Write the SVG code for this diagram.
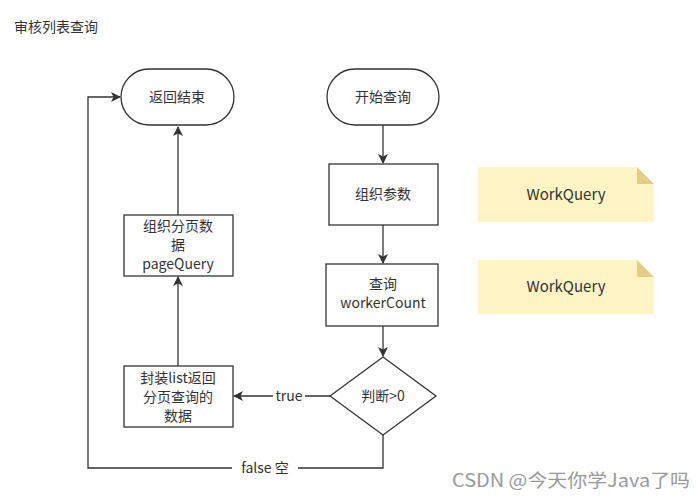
<svg xmlns="http://www.w3.org/2000/svg" width="697" height="500" viewBox="0 0 697 500">
<style>
.t{font-family:"Noto Sans CJK SC","Noto Sans",sans-serif;font-size:14px;fill:#333;text-anchor:middle}
.n{fill:#fff;stroke:#333;stroke-width:1.3}
.c{fill:none;stroke:#333;stroke-width:1.3}
.note{fill:#fff4c3}
.fold{fill:#e5cd85}
.lbl{font-family:"Noto Sans CJK SC","Noto Sans",sans-serif;font-size:14px;fill:#333;text-anchor:middle}
</style>
<defs>
<marker id="a" markerWidth="10" markerHeight="10" refX="9" refY="5" orient="auto" markerUnits="userSpaceOnUse">
<path d="M0,0 L10,5 L0,10 L2.5,5 Z" fill="#333"/>
</marker>
</defs>
<rect width="697" height="500" fill="#fff"/>
<text x="14" y="32" class="t" style="text-anchor:start">审核列表查询</text>

<g id="connectors">
<path class="c" d="M383,125 V163" marker-end="url(#a)"/>
<path class="c" d="M383,225 V263" marker-end="url(#a)"/>
<path class="c" d="M383,326 V356" marker-end="url(#a)"/>
<path class="c" d="M330,396 H234" marker-end="url(#a)"/>
<rect x="273" y="387" width="32" height="18" fill="#fff"/>
<text x="289" y="401" class="lbl">true</text>
<path class="c" d="M178,366 V277" marker-end="url(#a)"/>
<path class="c" d="M178,215 V127" marker-end="url(#a)"/>
<path class="c" d="M383,435 V468 H88 V97 H120" marker-end="url(#a)"/>
<rect x="232" y="459" width="66" height="18" fill="#fff"/>
<text x="265" y="473" class="lbl">false 空</text>
</g>

<g id="end"><rect class="n" x="121" y="69" width="113" height="56" rx="28"/><text x="177" y="102" class="t">返回结束</text></g>
<g id="start"><rect class="n" x="327" y="69" width="112" height="56" rx="28"/><text x="383" y="102" class="t">开始查询</text></g>
<g id="params"><rect class="n" x="329" y="164" width="109" height="61"/><text x="383" y="199" class="t">组织参数</text></g>
<g id="count"><rect class="n" x="326" y="264" width="112" height="62"/><text x="383" y="289" class="t">查询</text><text x="383" y="308" class="t">workerCount</text></g>
<g id="judge"><path class="n" d="M383,357 L436,396 L383,435 L330,396 Z"/><text x="383" y="401" class="t">判断&gt;0</text></g>
<g id="page"><rect class="n" x="124" y="215" width="109" height="61"/><text x="178" y="231" class="t">组织分页数</text><text x="178" y="250" class="t">据</text><text x="178" y="269" class="t">pageQuery</text></g>
<g id="wrap"><rect class="n" x="124" y="366" width="109" height="61"/><text x="178" y="383" class="t">封装list返回</text><text x="178" y="402" class="t">分页查询的</text><text x="178" y="421" class="t">数据</text></g>

<g id="note1"><path class="note" d="M478,167 H637 L654,184 V222 H478 Z"/><path class="fold" d="M637,167 L654,184 H637 Z"/><text x="566" y="200" class="t" style="font-size:15px">WorkQuery</text></g>
<g id="note2"><path class="note" d="M478,260 H637 L654,277 V314 H478 Z"/><path class="fold" d="M637,260 L654,277 H637 Z"/><text x="566" y="292" class="t" style="font-size:15px">WorkQuery</text></g>

<text x="452" y="487" textLength="238" lengthAdjust="spacingAndGlyphs" style="font-family:'Noto Sans CJK SC','Noto Sans',sans-serif;font-size:18px;fill:#999">CSDN @今天你学Java了吗</text>
</svg>
